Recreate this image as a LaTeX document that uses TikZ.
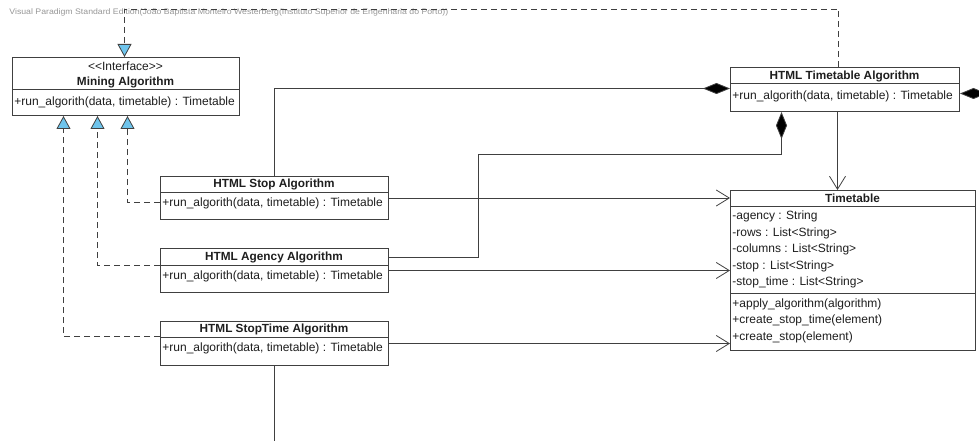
\documentclass[tikz,border=0pt]{standalone}
\usepackage{fontspec}
\setmainfont{Liberation Sans}
\usetikzlibrary{arrows.meta}

\definecolor{vpline}{RGB}{64,64,64}
\definecolor{vptext}{RGB}{30,30,30}
\definecolor{vpblue}{RGB}{110,196,236}
\definecolor{vpgray}{RGB}{150,150,150}

\begin{document}
\begin{tikzpicture}[%
        x = 1pt, y = -1pt,
        font = \fontsize{12}{14}\selectfont,
        text = vptext,
        line width = 0.8pt,
        classbox/.style = {draw = vpline, fill = white, line width = 1pt,
            inner sep = 0pt, anchor = north west},
        title/.style = {inner sep = 0pt, font = \fontsize{11.8}{14}\selectfont\bfseries},
        member/.style = {inner sep = 0pt, anchor = west},
        realize/.style = {draw = vpline, dash pattern = on 6pt off 4pt,
            -{Triangle[length = 13pt, width = 14pt, fill = vpblue]}},
        compose/.style = {draw = vpline,
            {Diamond[length = 27pt, width = 11pt, fill = black]}-},
        navig/.style = {draw = vpline, -{Straight Barb[length = 13pt, width = 16pt]}}
    ]

        \useasboundingbox (0, 0) rectangle (979, 441);
        \clip (0, 0) rectangle (979, 441);

        % Edition watermark at the top.
        \node[anchor = west, inner sep = 0pt, text = vpgray, transform shape, xscale = 1.09,
            font = \fontsize{8}{9}\selectfont] (watermark) at (9, 12)
            {Visual Paradigm Standard Edition(João Baptista Monteiro Westerberg(Instituto Superior de Engenharia do Porto))};

        % The interface.
        \node[classbox, minimum width = 227pt, minimum height = 58pt] (mining) at (12, 57) {};
        \draw[vpline] (12, 89) -- (239, 89);
        \node[inner sep = 0pt] (mining-stereo) at (125.5, 66) {<{}<Interface>{}>};
        \node[title] (mining-title) at (125.5, 82) {Mining Algorithm};
        \node[member] (mining-run) at (14, 102) {+run\_algorith(data, timetable) : Timetable};

        % The timetable algorithm.
        \node[classbox, minimum width = 229pt, minimum height = 44pt] (tta) at (730, 67) {};
        \draw[vpline] (730, 83) -- (959, 83);
        \node[title] (tta-title) at (844.5, 76) {HTML Timetable Algorithm};
        \node[member] (tta-run) at (732, 96) {+run\_algorith(data, timetable) : Timetable};

        % The three element algorithms.
        \node[classbox, minimum width = 228pt, minimum height = 43pt] (stop) at (160, 176) {};
        \draw[vpline] (160, 192) -- (388, 192);
        \node[title] (stop-title) at (274, 184) {HTML Stop Algorithm};
        \node[member] (stop-run) at (162, 203) {+run\_algorith(data, timetable) : Timetable};

        \node[classbox, minimum width = 228pt, minimum height = 44pt] (agency) at (160, 248) {};
        \draw[vpline] (160, 265) -- (388, 265);
        \node[title] (agency-title) at (274, 257) {HTML Agency Algorithm};
        \node[member] (agency-run) at (162, 276) {+run\_algorith(data, timetable) : Timetable};

        \node[classbox, minimum width = 228pt, minimum height = 44pt] (stoptime) at (160, 321) {};
        \draw[vpline] (160, 337) -- (388, 337);
        \node[title] (stoptime-title) at (274, 329) {HTML StopTime Algorithm};
        \node[member] (stoptime-run) at (162, 348) {+run\_algorith(data, timetable) : Timetable};

        % The timetable itself.
        \node[classbox, minimum width = 245pt, minimum height = 160pt] (timetable) at (730, 190) {};
        \draw[vpline] (730, 206) -- (975, 206);
        \draw[vpline] (730, 293) -- (975, 293);
        \node[title] (timetable-title) at (852.5, 198) {Timetable};
        \node[member] (tt-agency) at (732, 216.5) {-agency : String};
        \node[member] (tt-rows) at (732, 233) {-rows : List<String>};
        \node[member] (tt-columns) at (732, 249.5) {-columns : List<String>};
        \node[member] (tt-stop) at (732, 266) {-stop : List<String>};
        \node[member] (tt-stoptime) at (732, 282.5) {-stop\_time : List<String>};
        \node[member] (tt-apply) at (732, 304) {+apply\_algorithm(algorithm)};
        \node[member] (tt-createtime) at (732, 320.5) {+create\_stop\_time(element)};
        \node[member] (tt-createstop) at (732, 337) {+create\_stop(element)};

        % Realizations of the interface.
        \draw[realize] ([xshift = -6.5pt]tta.north) -- ++(0, -58) -| ([xshift = -1.5pt]mining.north);
        \draw[realize] ([yshift = -4.5pt]stop.west) -| ([xshift = 1.5pt]mining.south);
        \draw[realize] ([yshift = 5pt]agency.west) -| ([xshift = -28.5pt]mining.south);
        \draw[realize] ([yshift = 7pt]stoptime.west) -| ([xshift = -62.5pt]mining.south);

        % Compositions held by the timetable algorithm.
        \coordinate (bend) at (478, 154);
        \draw[compose] ([yshift = 1pt]tta.west) -| (stop.north);
        \draw[compose] ([xshift = -63.5pt]tta.south) |- (bend) |- ([yshift = 13.5pt]agency.east);
        \draw[compose] ([yshift = -4pt]tta.east) -- ++(40, 0);

        % Navigable associations to the timetable.
        \draw[navig] (stop.east) -- (stop.east -| timetable.west);
        \draw[navig] (agency.east) -- (agency.east -| timetable.west);
        \draw[navig] (stoptime.east) -- (stoptime.east -| timetable.west);
        \draw[navig] ([xshift = -7.5pt]tta.south) -- ([xshift = -7.5pt]tta.south |- timetable.north);
        \draw[vpline] (stoptime.south) -- ++(0, 90);
    \end{tikzpicture}
\end{document}
